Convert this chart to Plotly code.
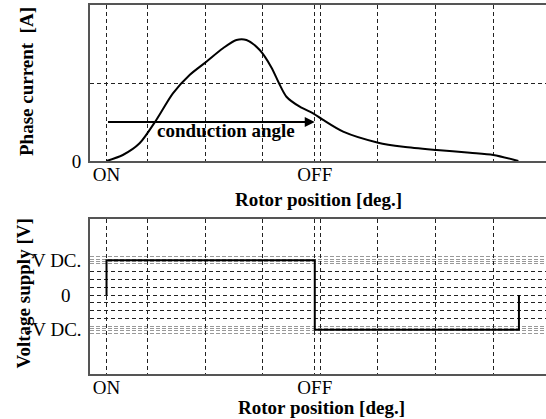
import plotly.graph_objects as go

# ---- data ----
on_pos = 2.87
off_pos = 39.04
end_pos = 74.5
grid_positions = [10, 20, 30, 40, 50, 60, 70]

current_x = [2.87, 5.70, 8.61, 11.51, 14.40, 17.30, 20.21, 23.10, 25.43, 27.17,
             29.48, 31.51, 32.83, 34.12, 36.43, 38.75, 40.49, 43.97, 50.05,
             54.40, 60.21, 66.0, 70.05, 74.4]
current_y = [0.0, 0.077, 0.227, 0.526, 0.868, 1.103, 1.273, 1.445, 1.551, 1.551,
             1.423, 1.20, 0.996, 0.824, 0.696, 0.612, 0.526, 0.376, 0.235,
             0.183, 0.141, 0.106, 0.077, 0.0]

voltage_x = [on_pos, on_pos, off_pos, off_pos, end_pos, end_pos]
voltage_y = [0, 1, 1, -1, -1, 0]

volt_major_grid = [-0.675, -0.45, -0.225, 0, 0.225, 0.45, 0.675]
volt_minor_grid = [-1.10, -1.03, -0.97, -0.90, 0.90, 0.97, 1.03, 1.10]
volt_labels = ["-V DC.", "0", "V DC."]
volt_label_vals = [-1, 0, 1]

arrow_y = 0.5

FONT = "Liberation Serif"
W, H = 546, 419
L = 90

xtickvals = [on_pos] + grid_positions[:3] + [off_pos] + grid_positions[3:]
xticktext = ["ON", "", "", "", "OFF", "", "", "", ""]

fig = go.Figure()
fig.add_trace(go.Scatter(x=current_x, y=current_y, mode="lines",
                         line=dict(color="black", width=2, shape="spline", smoothing=0.8),
                         xaxis="x", yaxis="y", showlegend=False))
fig.add_trace(go.Scatter(x=voltage_x, y=voltage_y, mode="lines",
                         line=dict(color="black", width=2),
                         xaxis="x2", yaxis="y2", showlegend=False))

def ydom(top_px, bot_px):
    return [1 - bot_px / H, 1 - top_px / H]

def px_x(sx):
    return (sx - L) / (W - L)

def px_y(sy):
    return 1 - sy / H

xcommon = dict(range=[0, 79.2], tickvals=xtickvals, ticktext=xticktext,
               showgrid=True, gridcolor="#222", griddash="4px,3px", gridwidth=1,
               showline=True, mirror=True, linecolor="#555", linewidth=2,
               ticks="", zeroline=False, automargin=False, ticklabelstandoff=-5,
               tickfont=dict(family=FONT, size=19, color="black"))

fig.update_layout(
    width=W, height=H,
    margin=dict(l=L, r=0, t=0, b=0, autoexpand=False),
    paper_bgcolor="white", plot_bgcolor="white",
    font=dict(family=FONT, size=19, color="black"),
    xaxis=dict(domain=[0, 1], anchor="y", **xcommon),
    yaxis=dict(domain=ydom(5, 161), range=[0, 2], tickvals=[0, 1], ticktext=["0", ""],
               showgrid=True, gridcolor="#222", griddash="4px,3px", gridwidth=1,
               showline=True, linecolor="#555", linewidth=2, ticks="", zeroline=False,
               automargin=False, ticklabelstandoff=3,
               tickfont=dict(family=FONT, size=19, color="black")),
    xaxis2=dict(domain=[0, 1], anchor="y2", **xcommon),
    yaxis2=dict(domain=ydom(219.3, 374), range=[-2.27, 2.18], tickvals=volt_major_grid,
                showticklabels=False, automargin=False,
                showgrid=True, gridcolor="#222", griddash="4px,3px", gridwidth=1,
                minor=dict(tickvals=volt_minor_grid, showgrid=True, gridcolor="#999",
                           griddash="4px,2px", gridwidth=1, ticks=""),
                showline=True, linecolor="#555", linewidth=2, ticks="", zeroline=False),
)

ann = []
# arrow for conduction angle
ann.append(dict(x=off_pos, y=arrow_y, ax=on_pos, ay=arrow_y, xref="x", yref="y",
                axref="x", ayref="y", text="", showarrow=True, arrowhead=2,
                arrowsize=1, arrowwidth=2, arrowcolor="black", standoff=0, startstandoff=0))
ann.append(dict(x=23.7, y=0.385, xref="x", yref="y", text="<b>conduction angle</b>",
                showarrow=False, font=dict(family=FONT, size=19, color="black")))
# x titles
ann.append(dict(x=px_x(318), y=px_y(200), xref="paper", yref="paper",
                text="<b>Rotor position [deg.]</b>", showarrow=False,
                xanchor="center", yanchor="middle", font=dict(family=FONT, size=19)))
ann.append(dict(x=px_x(321), y=px_y(407), xref="paper", yref="paper",
                text="<b>Rotor position [deg.]</b>", showarrow=False,
                xanchor="center", yanchor="middle", font=dict(family=FONT, size=19)))
# y titles
ann.append(dict(x=px_x(26), y=px_y(82), xref="paper", yref="paper",
                text="<b>Phase current  [A]</b>", textangle=-90, showarrow=False,
                xanchor="center", yanchor="middle", font=dict(family=FONT, size=19)))
ann.append(dict(x=px_x(23), y=px_y(293.5), xref="paper", yref="paper",
                text="<b>Voltage supply [V]</b>", textangle=-90, showarrow=False,
                xanchor="center", yanchor="middle", font=dict(family=FONT, size=19)))
# voltage tick labels
label_pos = {"-V DC.": (px_x(84), "right"),
             "0": (px_x(66), "center"),
             "V DC.": (px_x(83), "right")}
for txt, v in zip(volt_labels, volt_label_vals):
    px, anchor = label_pos[txt]
    ann.append(dict(x=px, y=v, xref="paper", yref="y2", text=txt, showarrow=False,
                    xanchor=anchor, yanchor="middle", font=dict(family=FONT, size=19)))

fig.update_layout(annotations=ann)
fig.write_html("out.html", config={"displayModeBar": False},
               post_script="document.body.style.margin='0px';document.body.style.padding='0px';")
